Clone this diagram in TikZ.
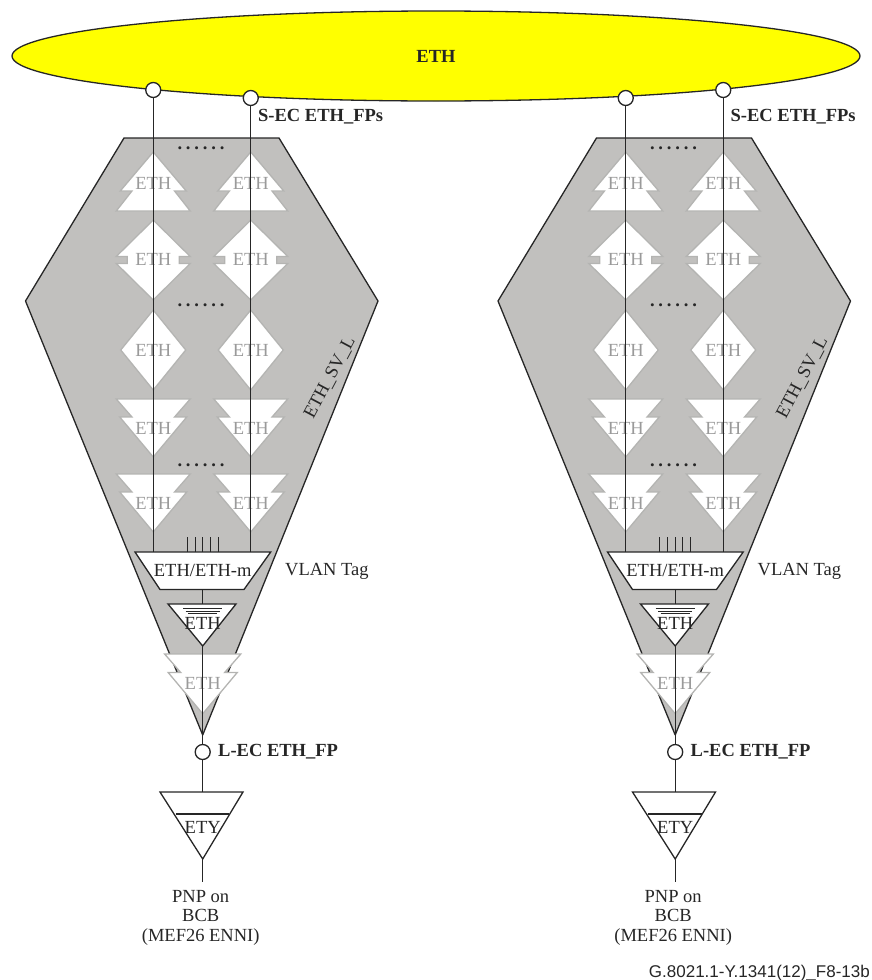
\documentclass[tikz,border=0pt]{standalone}
\usepackage{fontspec}
\setmainfont{Liberation Serif}
\newfontfamily\footfont{Liberation Sans}
\usepackage{tikz}
\usetikzlibrary{shapes.geometric}
\definecolor{hexgrey}{HTML}{C1C0BE}
\definecolor{unitgrey}{HTML}{B4B4B2}
\definecolor{textgrey}{HTML}{9A9A9A}
\definecolor{ethyellow}{HTML}{FFFF00}
\tikzset{
  lbl/.style={inner sep=0pt, font=\fontsize{18.5}{20.5}\selectfont, text=black!85},
  blbl/.style={lbl, font=\fontsize{18.5}{20.5}\selectfont\bfseries},
  glbl/.style={lbl, text=textgrey},
  unit/.style={draw=unitgrey, fill=white, line width=1.3pt, line join=miter},
  blackunit/.style={draw=black!85, fill=white, line width=1.3pt},
  wire/.style={draw=black!85, line width=1.3pt},
  fp/.style={circle, draw=black!85, fill=white, line width=1.3pt, minimum size=15pt, inner sep=0pt},
  treeup/.pic={
    \path[unit] (0,0) -- (-33,39) -- (-21.3,39) -- (-37,59) -- (37,59) -- (21.3,39) -- (33,39) -- cycle;
    \node[glbl] (lbl) at (0,31) {ETH};
  },
  treedown/.pic={
    \path[unit] (-37,0) -- (-21.3,18) -- (-33.5,18) -- (0,58) -- (33.5,18) -- (21.3,18) -- (37,0) -- cycle;
    \node[glbl] (lbl) at (0,29) {ETH};
  },
  diamnotch/.pic={
    \path[unit] (0,-40) -- (-37,-3.5) -- (-26,-3.5) -- (-26,3.5) -- (-37,3.5) -- (0,40) -- (37,3.5) -- (26,3.5) -- (26,-3.5) -- (37,-3.5) -- cycle;
    \node[glbl] (lbl) at (0,-1) {ETH};
  },
  diamplain/.pic={
    \path[unit] (0,-40) -- (-32.5,0) -- (0,40) -- (32.5,0) -- cycle;
    \node[glbl] (lbl) at (0,0) {ETH};
  },
  dotrow/.pic={
    \node[blbl] (lbl) at (0,-3) {\makebox[47pt]{.\hfill.\hfill.\hfill.\hfill.\hfill.}};
  }
}

\begin{document}
\begin{tikzpicture}[x=1pt, y=-1pt]
        \useasboundingbox (0,0) rectangle (872,980);

        % layer network
        \node[ellipse, draw=black!85, fill=ethyellow, line width=1.3pt, minimum width=848pt, minimum height=90pt, inner sep=0pt] (eth) at (436,56) {};
        \node[blbl] (ethlbl) at (436,56) {ETH};

        \foreach \ox/\g/\ya/\yb in {0/l/90/98, 472.5/r/98/90} {
          \begin{scope}[shift={(\ox,0)}]
            % grey link
            \draw[fill=hexgrey, draw=black!85, line width=1.3pt, line join=bevel] (124,138) -- (279,138) -- (378,301) -- (202.7,735) -- (25.5,301) -- cycle;
            \node[lbl, rotate=62] (sv\g) at (330,378) {ETH\_SV\_L};

            % the two columns
            \foreach \x/\c/\yc in {153.25/a/\ya, 250.75/b/\yb} {
              \pic (up\g\c) at (\x,152) {treeup};
              \pic (dn\g\c) at (\x,260) {diamnotch};
              \pic (dp\g\c) at (\x,350) {diamplain};
              \pic (tra\g\c) at (\x,399) {treedown};
              \pic (trb\g\c) at (\x,474) {treedown};
              \node[fp] (fp\g\c) at (\x,\yc) {};
              \coordinate (mt\g\c) at (\x,552);
              \draw[wire] (fp\g\c) -- (mt\g\c);
            }
            \foreach \y/\n in {151/a, 308/b, 468/c} {
              \pic (dots\g\n) at (201,\y) {dotrow};
            }
            \node[blbl, anchor=west] (sec\g) at (258,116.5) {S-EC ETH\_FPs};

            % adaptation
            \foreach \t in {187.3,195,202.7,210.3,218} {
              \draw[wire, line width=1pt] (\t,537) -- (\t,552);
            }
            \draw[blackunit] (135,552) -- (270.7,552) -- (244,589.5) -- (160,589.5) -- cycle;
            \node[lbl] (adapt\g) at (202.7,570) {ETH/ETH-m};
            \node[lbl, anchor=west] (vlan\g) at (285,571.5) {VLAN Tag};

            % termination
            \coordinate (am\g) at (202.7,589.5);
            \coordinate (tt\g) at (202.7,604);
            \coordinate (tz\g) at (202.7,646);
            \draw[wire] (am\g) -- (tt\g);
            \draw[blackunit] (168,604) -- (236,604) -- (tz\g) -- cycle;
            \draw[wire, line width=1pt] (183,608.5) -- (222,608.5) (185.5,611) -- (219.5,611) (188,613.5) -- (217,613.5);
            \node[lbl] (tr\g) at (202.7,623) {ETH};
            \pic[scale=1.03] (lt\g) at (202.7,654) {treedown};

            % link end
            \node[fp] (lfp\g) at (202.7,752) {};
            \draw[wire] (tz\g) -- (lfp\g);
            \node[blbl, anchor=west] (lec\g) at (218,752) {L-EC ETH\_FP};

            % physical
            \coordinate (ey\g) at (202.7,792);
            \coordinate (ez\g) at (202.7,859);
            \coordinate (eo\g) at (202.7,882);
            \draw[wire] (lfp\g) -- (ey\g);
            \draw[blackunit] (160,792) -- (243,792) -- (ez\g) -- cycle;
            \draw[wire] (175.7,814) -- (229,814);
            \draw[wire] (ez\g) -- (eo\g);
            \node[lbl] (ety\g) at (202.7,827) {ETY};
            \node[lbl, align=center, font=\fontsize{18.5}{19.5}\selectfont] (pnp\g) at (200.7,917.5) {PNP on\\BCB\\(MEF26 ENNI)};
          \end{scope}
        }

        \node[inner sep=0pt, anchor=east, text=black!85, font=\footfont\fontsize{17}{19}\selectfont] (fig) at (870,973) {G.8021.1-Y.1341(12)\_F8-13b};
      \end{tikzpicture}
\end{document}
